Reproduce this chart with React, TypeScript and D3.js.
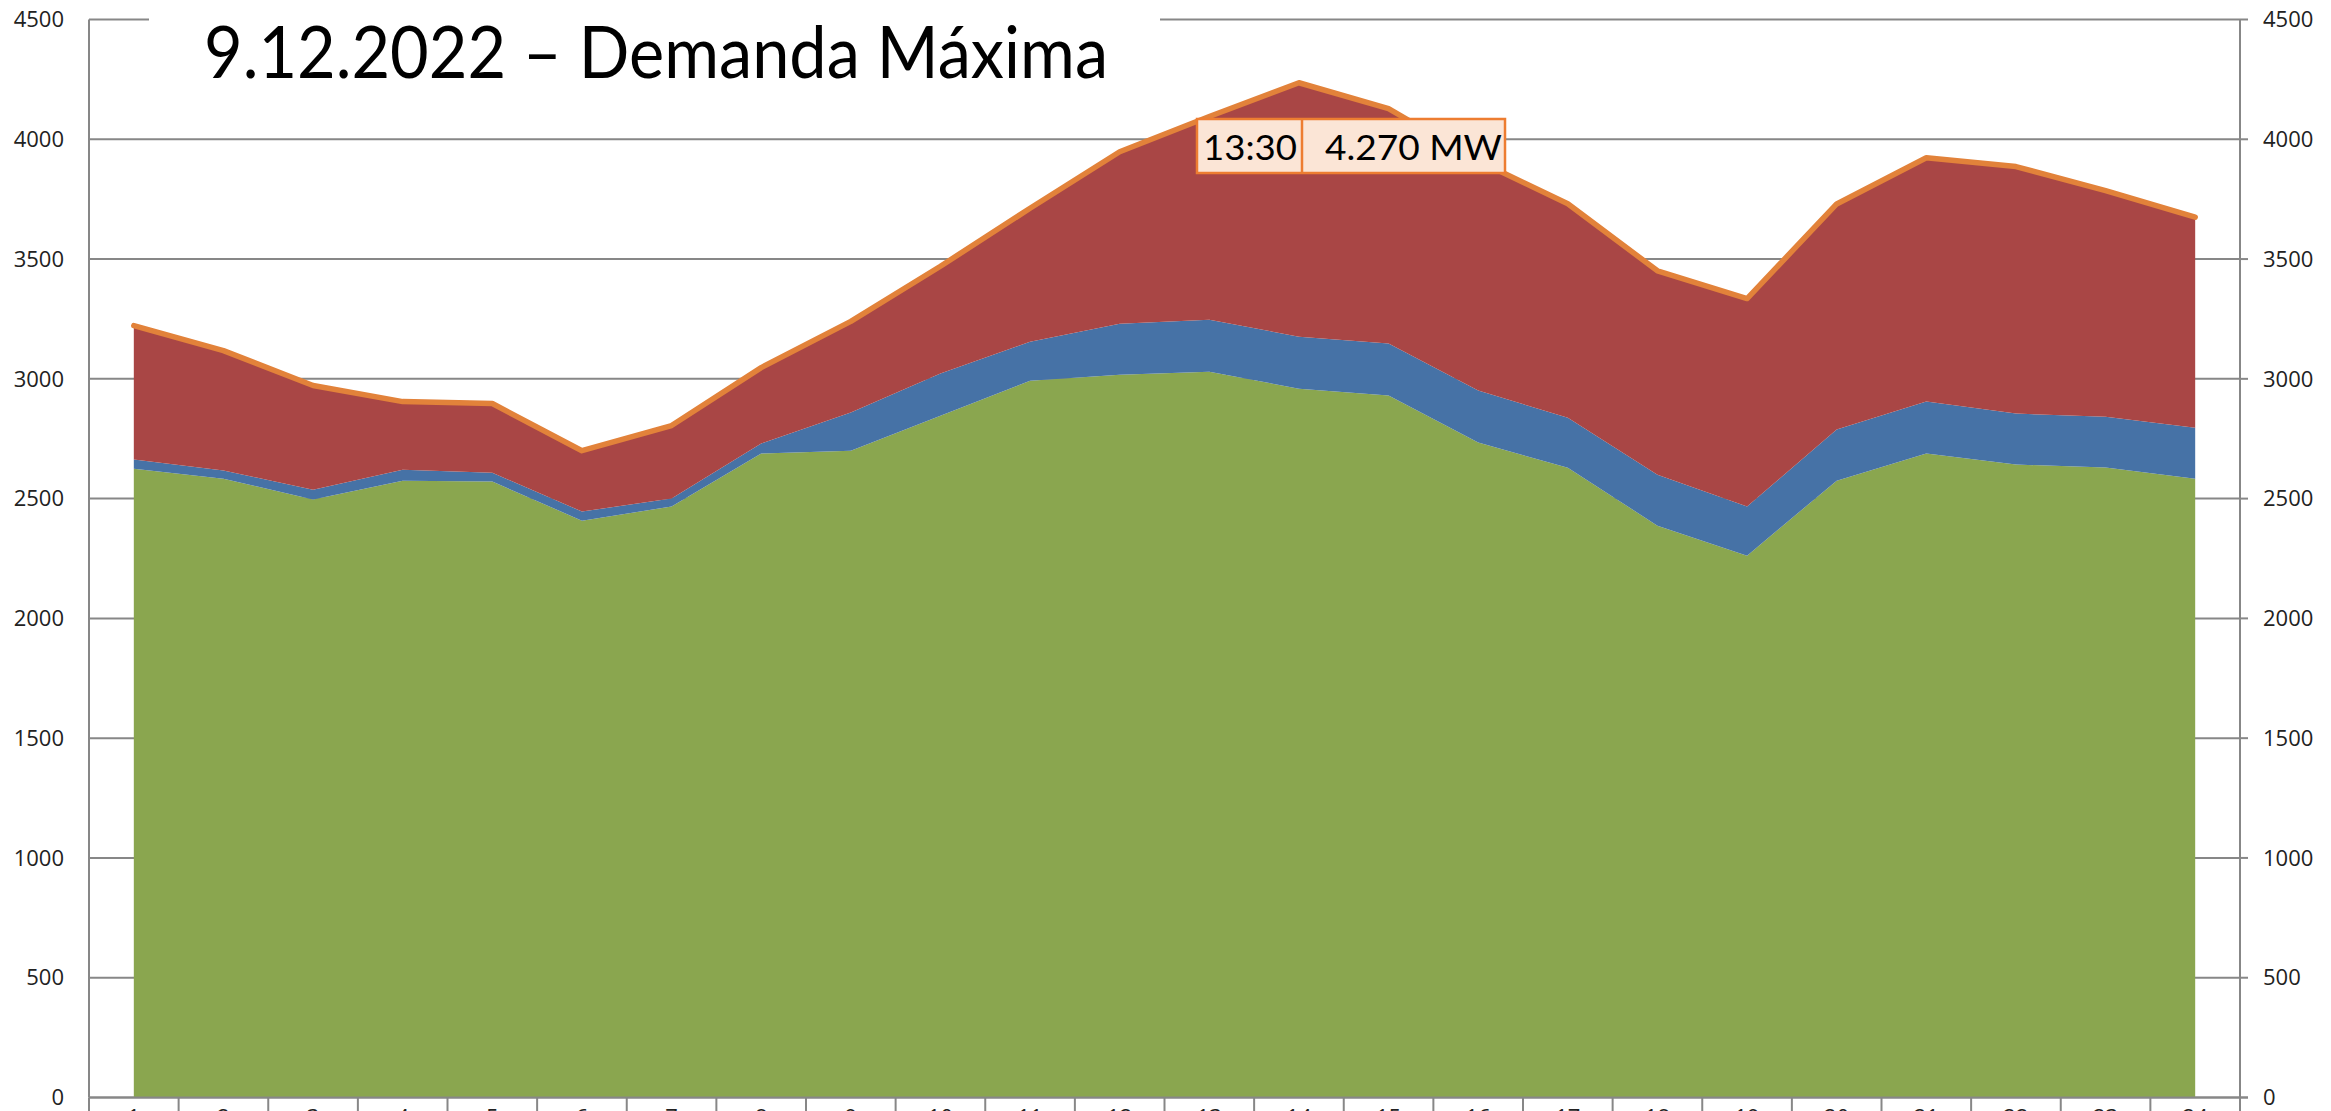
import React from 'react';
import * as d3 from 'd3';

// hourly categories (x axis)
const hours = ['1', '2', '3', '4', '5', '6', '7', '8', '9', '10', '11', '12',
  '13', '14', '15', '16', '17', '18', '19', '20', '21', '22', '23', '24'];

// stacked series, MW (bottom to top)
const greenSeries = [2625, 2583, 2496, 2575, 2571, 2408, 2467, 2688, 2700, 2846, 2992, 3017,
  3030, 2959, 2930, 2734, 2629, 2387, 2262, 2575, 2688, 2642, 2630, 2583];
const blueSeries = [38, 34, 41, 46, 37, 38, 33, 42, 159, 176, 163, 213,
  217, 217, 217, 217, 209, 213, 205, 213, 217, 213, 212, 213];
const redSeries = [559, 501, 435, 284, 289, 254, 305, 317, 381, 448, 557, 718,
  848, 1060, 981, 959, 893, 851, 868, 942, 1018, 1031, 944, 879];

const yTicks = [0, 500, 1000, 1500, 2000, 2500, 3000, 3500, 4000, 4500];

const title = '9.12.2022 – Demanda Máxima';
const peakTime = '13:30';
const peakValue = '4.270 MW';

const W = 2331;
const H = 1111;

export default function App() {
  const left = 89;
  const right = 2240;
  const top = 19.5;
  const bottom = 1097.5;

  const x = d3.scaleBand().domain(hours).range([left, right]).padding(0);
  const cx = (h) => x(h) + x.bandwidth() / 2;
  const y = d3.scaleLinear().domain([0, 4500]).range([bottom, top]);

  const rows = hours.map((h, i) => ({
    hour: h,
    green: greenSeries[i],
    blue: blueSeries[i],
    red: redSeries[i],
  }));
  const keys = ['green', 'blue', 'red'];
  const colors = { green: '#8AA64F', blue: '#4672A6', red: '#A94645' };
  const stacked = d3.stack().keys(keys)(rows);

  const area = d3.area()
    .x((d) => cx(d.data.hour))
    .y0((d) => y(d[0]))
    .y1((d) => y(d[1]));

  const totalLine = d3.line()
    .x((d) => cx(d.data.hour))
    .y((d) => y(d[1]));

  const gridColor = '#878787';
  const tickFont = '"Open Sans", "Noto Sans", sans-serif';

  return (
    <svg width={W} height={H} style={{ position: 'absolute', left: 0, top: 0, background: '#fff' }}>
      <rect x={0} y={0} width={W} height={H} fill="#fff" />

      {/* gridlines */}
      {yTicks.map((t) => (
        <line key={'g' + t} x1={left} x2={right} y1={y(t)} y2={y(t)} stroke={gridColor} strokeWidth={2} />
      ))}

      {/* stacked areas */}
      {stacked.map((s) => (
        <path key={s.key} d={area(s)} fill={colors[s.key]} />
      ))}

      {/* total demand line */}
      <path d={totalLine(stacked[2])} fill="none" stroke="#E2823A" strokeWidth={5.5} strokeLinejoin="round" strokeLinecap="round" />

      {/* left axis */}
      <line x1={left} x2={left} y1={top} y2={bottom} stroke={gridColor} strokeWidth={2} />
      {yTicks.map((t) => (
        <text key={'l' + t} x={64} y={y(t)} dy="0.35em" textAnchor="end" fontFamily={tickFont} fontSize={22} fill="#222">{t}</text>
      ))}

      {/* right axis */}
      <line x1={right} x2={right} y1={top} y2={bottom} stroke={gridColor} strokeWidth={2} />
      {yTicks.map((t) => (
        <g key={'r' + t}>
          <line x1={right} x2={right + 8} y1={y(t)} y2={y(t)} stroke={gridColor} strokeWidth={2} />
          <text x={2263} y={y(t)} dy="0.35em" textAnchor="start" fontFamily={tickFont} fontSize={22} fill="#222">{t}</text>
        </g>
      ))}

      {/* bottom axis */}
      <line x1={left} x2={right + 8} y1={bottom} y2={bottom} stroke={gridColor} strokeWidth={2} />
      {hours.map((h) => (
        <line key={'t' + h} x1={x(h)} x2={x(h)} y1={bottom} y2={H} stroke={gridColor} strokeWidth={2} />
      ))}
      <line x1={right} x2={right} y1={bottom} y2={H} stroke={gridColor} strokeWidth={2} />
      {hours.map((h) => (
        <text key={'x' + h} x={cx(h)} y={1125} textAnchor="middle" fontFamily={tickFont} fontSize={22} fill="#222">{h}</text>
      ))}

      {/* title */}
      <rect x={149} y={0} width={1011} height={100} fill="#fff" />
      <text x={204} y={78} fontFamily="Lato, 'Open Sans', sans-serif" fontSize={71} fill="#000"
        textLength={904} lengthAdjust="spacingAndGlyphs">{title}</text>

      {/* peak annotation */}
      <rect x={1197} y={119} width={308} height={54} fill="#FBE5D6" stroke="#ED7D31" strokeWidth={2.5} />
      <line x1={1302} x2={1302} y1={119} y2={173} stroke="#ED7D31" strokeWidth={2.5} />
      <text x={1250} y={160} textAnchor="middle" fontFamily="Lato, 'Open Sans', sans-serif" fontSize={35} fill="#000"
        textLength={94} lengthAdjust="spacingAndGlyphs">{peakTime}</text>
      <text x={1325} y={160} fontFamily="Lato, 'Open Sans', sans-serif" fontSize={35} fill="#000"
        textLength={177} lengthAdjust="spacingAndGlyphs">{peakValue}</text>
    </svg>
  );
}
